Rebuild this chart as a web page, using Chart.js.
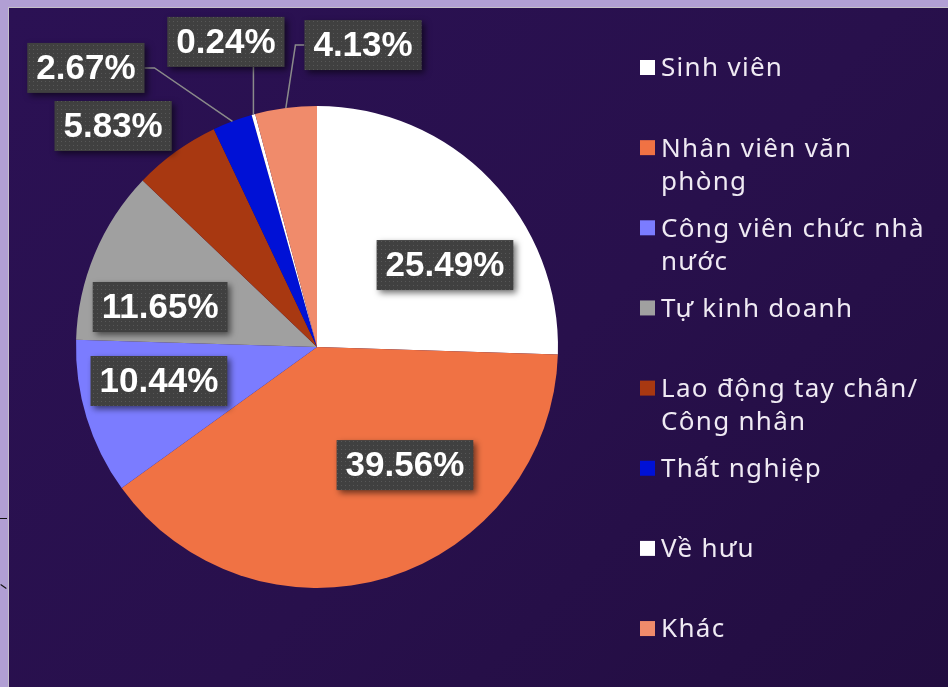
<!DOCTYPE html>
<html>
<head>
    <meta charset="utf-8">
    <title>Nghề nghiệp</title>
    <script src="https://cdn.jsdelivr.net/npm/chart.js@4"></script>
    <style>
        body {
            margin: 0;
            background: #b19fd4;
            width: 948px;
            height: 687px;
            overflow: hidden;
            position: relative;
        }

        .panel {
            position: absolute;
            left: 8px;
            top: 7px;
            width: 940px;
            height: 680px;
            border-left: 1px solid #c4c0c8;
            border-top: 1px solid #c4c0c8;
            background: linear-gradient(135deg, #2b1154 0%, #28104c 55%, #220d40 100%);
        }

        .tick {
            position: absolute;
            left: 0;
            width: 7px;
            height: 1px;
            background: #111;
        }

        canvas {
            position: absolute;
            left: 0;
            top: 0;
        }
    </style>
</head>
<body>
<div class="panel"></div>
<div class="tick" style="top: 518px"></div>
<div class="tick" style="top: 586px; transform: rotate(35deg)"></div>
<canvas id="pie" width="948" height="687"></canvas>

<script>
    // categories (\n = line break in the legend)
    const categories = [
        'Sinh viên',
        'Nhân viên văn\nphòng',
        'Công viên chức nhà\nnước',
        'Tự kinh doanh',
        'Lao động tay chân/\nCông nhân',
        'Thất nghiệp',
        'Về hưu',
        'Khác'
    ];
    const values = [25.49, 39.56, 10.44, 11.65, 5.83, 2.67, 0.24, 4.13];
    const colors = ['#ffffff', '#f07244', '#7b7cff', '#a0a0a0', '#a83811', '#0011d6', '#ffffff', '#f08b6b'];

    // label anchor relative to pie centre, in units of the radius
    const labelOffsets = [
        [0.531, -0.340], [0.365, 0.490], [-0.656, 0.141], [-0.651, -0.166],
        [-0.846, -0.917], [-0.959, -1.158], [-0.378, -1.266], [0.191, -1.253]
    ];
    const withLeader = [false, false, false, false, false, true, true, true];

    function dotPattern(ctx) {
        const c = document.createElement('canvas');
        c.width = 4;
        c.height = 4;
        const p = c.getContext('2d');
        p.fillStyle = '#404040';
        p.fillRect(0, 0, 4, 4);
        p.fillStyle = '#575757';
        p.fillRect(1, 1, 1, 1);
        return ctx.createPattern(c, 'repeat');
    }

    const boxLabels = {
        id: 'boxLabels',
        afterDatasetsDraw(chart) {
            const ctx = chart.ctx;
            const arcs = chart.getDatasetMeta(0).data;
            const pattern = dotPattern(ctx);
            ctx.save();
            ctx.font = 'bold 35px "Liberation Sans", Arial, sans-serif';
            arcs.forEach((arc, i) => {
                const R = arc.outerRadius;
                const cx = arc.x + labelOffsets[i][0] * R;
                const cy = arc.y + labelOffsets[i][1] * R;
                const text = values[i].toFixed(2) + '%';
                const w = ctx.measureText(text).width + 18;
                const h = 50;
                const left = cx - w / 2, top = cy - h / 2;

                if (withLeader[i]) {
                    const mid = (arc.startAngle + arc.endAngle) / 2;
                    const px = arc.x + Math.cos(mid) * R;
                    const py = arc.y + Math.sin(mid) * R;
                    ctx.strokeStyle = '#8a8a8a';
                    ctx.lineWidth = 1.5;
                    ctx.beginPath();
                    if (px > left + 10 && px < left + w - 10) {
                        ctx.moveTo(px, top + h);
                        ctx.lineTo(px, py);
                    } else if (px < left) {
                        ctx.moveTo(left, cy);
                        ctx.lineTo(left - 9, cy);
                        ctx.lineTo(px, py);
                    } else {
                        ctx.moveTo(left + w, cy);
                        ctx.lineTo(left + w + 10, cy);
                        ctx.lineTo(px, py);
                    }
                    ctx.stroke();
                }

                ctx.save();
                ctx.shadowColor = 'rgba(0, 0, 0, 0.55)';
                ctx.shadowBlur = 6;
                ctx.shadowOffsetX = 3;
                ctx.shadowOffsetY = 3;
                ctx.fillStyle = pattern;
                ctx.fillRect(left, top, w, h);
                ctx.restore();

                ctx.fillStyle = '#ffffff';
                ctx.textAlign = 'center';
                ctx.textBaseline = 'middle';
                ctx.fillText(text, cx, cy + 1);
            });
            ctx.restore();
        }
    };

    const sideLegend = {
        id: 'sideLegend',
        afterDraw(chart) {
            const ctx = chart.ctx;
            const x = chart.chartArea.right + 82;
            const y0 = 68, step = 80.15, lineH = 33;
            ctx.save();
            ctx.font = '26px "Noto Sans", sans-serif';
            ctx.letterSpacing = '1.3px';
            ctx.textBaseline = 'middle';
            ctx.textAlign = 'left';
            categories.forEach((name, i) => {
                const y = y0 + i * step;
                ctx.fillStyle = colors[i];
                ctx.fillRect(x, y - 8, 15, 15);
                ctx.fillStyle = '#efeaf3';
                name.split('\n').forEach((line, k) => {
                    ctx.fillText(line, x + 21, y + 1 + k * lineH);
                });
            });
            ctx.restore();
        }
    };

    const ctx = document.getElementById('pie').getContext('2d');
    const chart = new Chart(ctx, {
        type: 'pie',
        data: {
            labels: categories,
            datasets: [{
                data: values,
                backgroundColor: colors,
                borderWidth: 0
            }]
        },
        options: {
            responsive: false,
            animation: false,
            layout: {
                padding: {left: 76, right: 390, top: 106, bottom: 99}
            },
            plugins: {
                legend: {display: false},
                tooltip: {enabled: false}
            }
        },
        plugins: [boxLabels, sideLegend]
    });
</script>
</body>
</html>
